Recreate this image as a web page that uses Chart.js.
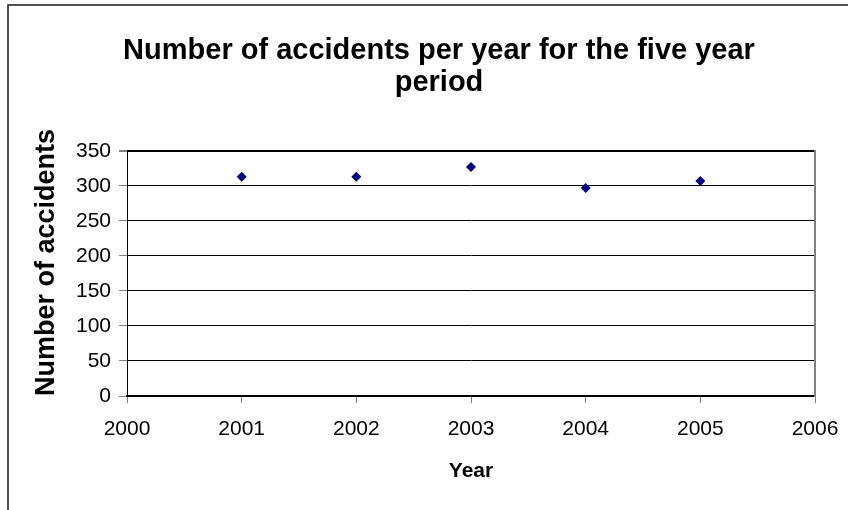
<!DOCTYPE html>
<html>
<head>
<meta charset="utf-8">
<script src="https://cdn.jsdelivr.net/npm/chart.js@4/dist/chart.umd.min.js"></script>
<style>
  html, body { margin: 0; padding: 0; background: #fff; }
  #wrap { width: 848px; height: 510px; position: relative; }
</style>
</head>
<body>
<div id="wrap"><canvas id="myChart" width="848" height="510"></canvas></div>
<script>
const years = [2001, 2002, 2003, 2004, 2005];
const accidents = [313, 313, 327, 297, 307];
const xTicks = [2000, 2001, 2002, 2003, 2004, 2005, 2006];
const yTicks = [0, 50, 100, 150, 200, 250, 300, 350];

const font = 'Liberation Sans, Arial, sans-serif';

// outer chart border (Excel style frame)
const frame = {
  id: 'frame',
  afterDraw(chart) {
    const ctx = chart.ctx;
    ctx.save();
    ctx.strokeStyle = '#1a1a1a';
    ctx.lineWidth = 1.5;
    ctx.beginPath();
    ctx.moveTo(8, 520);
    ctx.lineTo(8, 5);
    ctx.lineTo(860, 5);
    ctx.stroke();
    ctx.restore();
  }
};

const newChart = new Chart(document.getElementById('myChart').getContext('2d'), {
  type: 'scatter',
  data: {
    datasets: [{
      data: years.map((y, i) => ({ x: y, y: accidents[i] })),
      pointStyle: 'rectRot',
      pointRadius: 5,
      pointHoverRadius: 5,
      backgroundColor: '#000080',
      borderColor: '#000080',
      borderWidth: 0
    }]
  },
  options: {
    responsive: false,
    animation: false,
    layout: { padding: { left: 30, right: 0, top: 0, bottom: 0 } },
    plugins: {
      legend: { display: false },
      tooltip: { enabled: false },
      title: {
        display: true,
        text: ['Number of accidents per year for the five year', 'period'],
        color: '#000',
        font: { family: font, size: 29, weight: 'bold', lineHeight: 1.1 },
        padding: { top: 35, bottom: 52 }
      }
    },
    scales: {
      x: {
        type: 'linear',
        min: 2000,
        max: 2006,
        afterBuildTicks: s => { s.ticks = xTicks.map(v => ({ value: v })); },
        afterFit: s => { s.height = 114; s.paddingLeft = 0; s.paddingRight = 0; },
        ticks: {
          color: '#000',
          font: { family: font, size: 21 },
          padding: 14,
          maxRotation: 0,
          callback: v => String(v)
        },
        grid: { drawOnChartArea: false, tickColor: '#808080', tickLength: 7 },
        border: { color: '#000', width: 2 },
        title: {
          display: true,
          text: 'Year',
          color: '#000',
          font: { family: font, size: 21, weight: 'bold' },
          padding: { top: 4, bottom: 26 }
        }
      },
      y: {
        min: 0,
        max: 350,
        afterBuildTicks: s => { s.ticks = yTicks.map(v => ({ value: v })); },
        afterFit: s => { s.width = 97; },
        ticks: {
          color: '#000',
          font: { family: font, size: 21 },
          padding: 8
        },
        grid: {
          color: '#000',
          lineWidth: ctx => ctx.tick && ctx.tick.value === 350 ? 2 : 1,
          tickColor: '#808080',
          tickLength: 8
        },
        border: { color: '#000', width: 1 },
        title: {
          display: true,
          text: 'Number of accidents',
          align: 'start',
          color: '#000',
          font: { family: font, size: 27, weight: 'bold' },
          padding: { top: 0, bottom: 0 }
        }
      },
      // empty right axis: reserves the right margin and draws the grey plot edge
      y2: {
        position: 'right',
        min: 0,
        max: 350,
        afterFit: s => { s.width = 33; },
        ticks: { display: false },
        grid: { display: false, drawTicks: false },
        border: { color: '#808080', width: 2 }
      }
    }
  },
  plugins: [frame]
});
</script>
</body>
</html>
